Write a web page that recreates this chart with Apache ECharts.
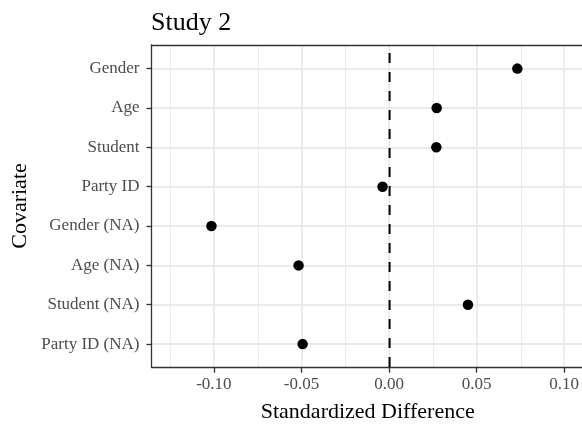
<!DOCTYPE html>
<html>
<head>
<meta charset="utf-8">
<script src="https://cdn.jsdelivr.net/npm/echarts@6/dist/echarts.min.js"></script>
<style>
html,body{margin:0;padding:0;background:#fff;}
#chart{width:582px;height:428px;}
</style>
</head>
<body>
<div id="chart"></div>
<script>
// ---- data ----
const covariates = ["Gender", "Age", "Student", "Party ID", "Gender (NA)", "Age (NA)", "Student (NA)", "Party ID (NA)"];
const stdDiff = [0.0727, 0.0268, 0.0266, -0.0040, -0.1014, -0.0518, 0.0446, -0.0495];
const xMajorRange = [-0.10, 0.10];   // major ticks every 0.05
const xMinorRange = [-0.125, 0.075]; // minor grid lines every 0.05
const xStep = 0.05;
const xLimits = [-0.1355, 0.1095];   // visible panel range
const yLimits = [-0.6, 7.6];         // discrete axis expansion
const refLine = 0;

// ---- layout (pixels) ----
const W = 582, H = 428;
const panelLeft = 151.5, panelTop = 45, panelBottom = 367.7, panelRight = 582;
const pxPerUnit = (panelRight - panelLeft) / (xLimits[1] - xLimits[0]);
const pxPerCat = (panelBottom - panelTop) / (yLimits[1] - yLimits[0]);
const xPix = v => panelLeft + (v - xLimits[0]) * pxPerUnit;

const serif = "'Liberation Serif', 'DejaVu Serif', serif";
const gridCol = '#ebebeb';
const borderCol = '#333333';

const chart = echarts.init(document.getElementById('chart'), null, {renderer: 'canvas'});

const hiddenValueX = (gi, lim) => ({type: 'value', gridIndex: gi, min: lim[0], max: lim[1], show: false});
const hiddenValueY = (gi, lim) => ({type: 'value', gridIndex: gi, min: lim[0], max: lim[1], show: false, inverse: true});

chart.setOption({
  backgroundColor: '#ffffff',
  animation: false,
  title: {
    text: 'Study 2',
    left: 151,
    top: 10,
    padding: 0,
    textStyle: {fontFamily: serif, fontSize: 26, fontWeight: 'normal', color: '#000'}
  },
  grid: [
    // 0: panel (border lines, vline, axis titles)
    {left: panelLeft, top: panelTop, width: panelRight - panelLeft, height: panelBottom - panelTop, show: false},
    // 1: points + category axis
    {left: panelLeft, width: panelRight - panelLeft,
     top: panelTop + 0.6 * pxPerCat, height: 7 * pxPerCat, show: false},
    // 2: minor vertical grid lines
    {left: xPix(xMinorRange[0]), width: (xMinorRange[1] - xMinorRange[0]) * pxPerUnit,
     top: panelTop, height: panelBottom - panelTop, show: false},
    // 3: major vertical grid lines, ticks and labels
    {left: xPix(xMajorRange[0]), width: (xMajorRange[1] - xMajorRange[0]) * pxPerUnit,
     top: panelTop, height: panelBottom - panelTop, show: false}
  ],
  xAxis: [
    { // panel bottom border + axis title
      type: 'value', gridIndex: 0, min: xLimits[0], max: xLimits[1], position: 'bottom',
      name: 'Standardized Difference', nameLocation: 'middle', nameGap: 34,
      nameTextStyle: {fontFamily: serif, fontSize: 22, color: '#000', padding: [0, 0, 0, 2]},
      axisLine: {show: true, onZero: false, lineStyle: {color: borderCol, width: 1.3}},
      axisTick: {show: false}, axisLabel: {show: false}, splitLine: {show: false}
    },
    { // panel top border
      type: 'value', gridIndex: 0, min: xLimits[0], max: xLimits[1], position: 'top',
      axisLine: {show: true, onZero: false, lineStyle: {color: borderCol, width: 1.3}},
      axisTick: {show: false}, axisLabel: {show: false}, splitLine: {show: false}
    },
    hiddenValueX(1, xLimits),
    { // minor grid lines
      type: 'value', gridIndex: 2, min: xMinorRange[0], max: xMinorRange[1], interval: xStep,
      axisLine: {show: false}, axisTick: {show: false}, axisLabel: {show: false},
      splitLine: {show: true, lineStyle: {color: gridCol, width: 1}}
    },
    { // major grid lines, ticks, labels
      type: 'value', gridIndex: 3, min: xMajorRange[0], max: xMajorRange[1], interval: xStep, position: 'bottom',
      axisLine: {show: false, onZero: false},
      axisTick: {show: true, length: 5, lineStyle: {color: borderCol, width: 1.3}},
      axisLabel: {margin: 8, fontFamily: serif, fontSize: 17, color: '#4d4d4d',
        formatter: v => (v < -1e-9 ? '-' : '') + Math.abs(v).toFixed(2)},
      splitLine: {show: true, lineStyle: {color: gridCol, width: 1.8}}
    }
  ],
  yAxis: [
    { // panel left border + axis title
      type: 'value', gridIndex: 0, min: yLimits[0], max: yLimits[1], inverse: true, position: 'left',
      name: 'Covariate', nameLocation: 'middle', nameRotate: 90, nameGap: 120,
      nameTextStyle: {fontFamily: serif, fontSize: 22, color: '#000'},
      axisLine: {show: true, onZero: false, lineStyle: {color: borderCol, width: 1.3}},
      axisTick: {show: false}, axisLabel: {show: false}, splitLine: {show: false}
    },
    { // categories
      type: 'category', gridIndex: 1, data: covariates, inverse: true, boundaryGap: false, position: 'left',
      axisLine: {show: false, onZero: false},
      axisTick: {show: true, interval: 0, length: 5, lineStyle: {color: borderCol, width: 1.3}},
      axisLabel: {interval: 0, margin: 12, fontFamily: serif, fontSize: 17, color: '#4d4d4d'},
      splitLine: {show: true, interval: 0, lineStyle: {color: gridCol, width: 1.8}}
    },
    hiddenValueY(2, yLimits),
    hiddenValueY(3, yLimits)
  ],
  series: [
    {
      type: 'line',
      xAxisIndex: 0, yAxisIndex: 0,
      data: [[refLine, yLimits[1]], [refLine, yLimits[0]]],
      symbol: 'none',
      lineStyle: {color: '#000', width: 2, type: [10, 9]},
      silent: true, z: 3
    },
    {
      type: 'scatter',
      xAxisIndex: 2, yAxisIndex: 1,
      data: stdDiff.map((v, i) => [v, covariates[i]]),
      symbol: 'circle',
      symbolSize: 10.5,
      itemStyle: {color: '#000', opacity: 1},
      z: 4
    }
  ]
});
</script>
</body>
</html>
